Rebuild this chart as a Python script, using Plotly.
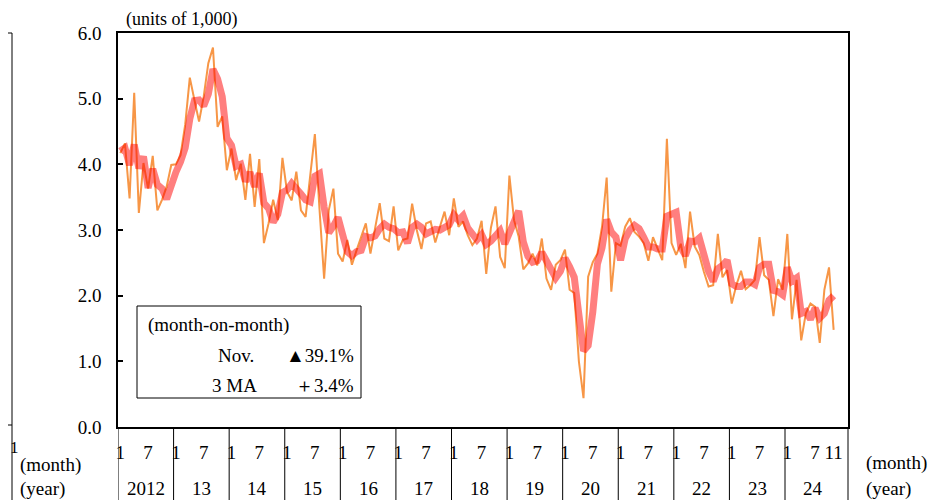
import plotly.graph_objects as go

# monthly values (units of 1,000), Jan 2012 - Nov 2024
monthly = [
  4.17, 4.32, 3.48, 5.09, 3.26, 4.02, 3.63, 4.13, 3.30, 3.46, 3.66, 3.99,
  4.00, 4.14, 4.60, 5.32, 4.98, 4.65, 5.03, 5.54, 5.78, 4.57, 4.73, 3.91,
  4.24, 3.76, 4.01, 3.46, 4.16, 3.35, 4.08, 2.80, 3.10, 3.46, 3.15, 4.10,
  3.58, 3.45, 3.89, 3.30, 3.20, 3.80, 4.46, 3.32, 2.26, 3.30, 3.63, 2.64,
  2.52, 2.85, 2.47, 2.69, 2.90, 3.10, 2.64, 3.00, 3.41, 2.87, 2.83, 3.36,
  2.69, 2.85, 2.87, 3.40, 3.00, 2.71, 3.10, 3.13, 2.81, 3.05, 3.28, 2.92,
  3.48, 3.05, 3.13, 2.92, 2.77, 2.87, 3.14, 2.33, 3.03, 3.36, 2.59, 2.42,
  3.83, 3.15, 2.90, 2.40, 2.49, 2.64, 2.46, 2.87, 2.26, 2.09, 2.47, 2.54,
  2.70, 2.09, 2.04, 1.00, 0.44, 2.29, 2.51, 2.64, 3.05, 3.80, 2.06, 2.80,
  2.76, 3.05, 3.18, 2.97, 2.90, 2.80, 2.53, 2.89, 2.70, 2.54, 4.39, 2.80,
  2.62, 2.79, 2.42, 3.28, 2.75, 2.62, 2.36, 2.14, 2.16, 2.94, 2.28, 2.39,
  1.88, 2.16, 2.38, 2.10, 2.16, 2.24, 2.89, 2.31, 2.24, 1.69, 2.25, 2.09,
  2.94, 1.64, 2.24, 1.32, 1.73, 1.88, 1.83, 1.28, 2.09, 2.43, 1.48,
]

# 3-month moving average, same months
ma3 = [
  4.20, 4.25, 3.99, 4.30, 3.94, 4.12, 3.64, 3.93, 3.69, 3.63, 3.47, 3.70,
  3.88, 4.04, 4.25, 4.69, 4.97, 4.98, 4.89, 5.07, 5.45, 5.30, 5.03, 4.40,
  4.29, 3.97, 4.00, 3.74, 3.88, 3.66, 3.86, 3.41, 3.33, 3.12, 3.24, 3.57,
  3.61, 3.71, 3.64, 3.55, 3.46, 3.43, 3.82, 3.86, 3.35, 2.96, 3.06, 3.19,
  2.93, 2.67, 2.61, 2.67, 2.69, 2.90, 2.88, 2.91, 3.02, 3.09, 3.04, 3.02,
  2.96, 2.97, 2.80, 3.04, 3.09, 3.04, 2.94, 2.98, 3.01, 3.00, 3.05, 3.08,
  3.23, 3.15, 3.22, 3.03, 2.94, 2.85, 2.93, 2.78, 2.83, 2.91, 2.99, 2.79,
  2.95, 3.13, 3.29, 2.82, 2.60, 2.51, 2.53, 2.66, 2.53, 2.41, 2.27, 2.37,
  2.57, 2.44, 2.28, 1.71, 1.16, 1.24, 1.75, 2.48, 2.73, 3.16, 2.97, 2.89,
  2.54, 2.87, 3.00, 3.07, 3.02, 2.89, 2.74, 2.74, 2.71, 2.71, 3.21, 3.24,
  3.27, 2.74, 2.61, 2.83, 2.82, 2.88, 2.58, 2.37, 2.22, 2.41, 2.46, 2.54,
  2.18, 2.14, 2.14, 2.21, 2.21, 2.17, 2.43, 2.48, 2.48, 2.08, 2.06, 2.01,
  2.43, 2.22, 2.27, 1.73, 1.76, 1.64, 1.81, 1.66, 1.73, 1.93, 2.00,
]

years = ["2012", "13", "14", "15", "16", "17", "18", "19", "20", "21", "22", "23", "24"]
tick_months = [1, 7]
last_month = 11

FONT = "Liberation Serif, DejaVu Serif, serif"
OFF = 8  # page body margin; page pixel = figure pixel + OFF
W, H = 941 - OFF, 500 - OFF
L, R, T, B = 118 - OFF, 848 - OFF, 33 - OFF, 427 - OFF


def px_x(x):
  """page pixel x -> paper fraction"""
  return (x - OFF - L) / (R - L)


def px_y(y):
  """page pixel y -> paper fraction"""
  return (B - (y - OFF)) / (B - T)


idx = list(range(len(monthly)))
tickvals = [12 * k + m - 1 for k in range(len(years)) for m in tick_months] + [12 * (len(years) - 1) + last_month - 1]
ticktext = [str(m) for _ in years for m in tick_months] + [str(last_month)]

fig = go.Figure()
fig.add_trace(go.Scatter(x=idx, y=monthly, mode="lines", line=dict(color="#F79646", width=2), hoverinfo="skip"))
fig.add_trace(go.Scatter(x=idx, y=ma3, mode="lines", line=dict(color="rgba(255,0,0,0.5)", width=7), hoverinfo="skip"))

shapes = []
# year separators below the axis
for k in range(len(years)):
  shapes.append(dict(type="line", xref="x", yref="paper", x0=12 * k - 0.5, x1=12 * k - 0.5,
                     y0=0, y1=px_y(500), line=dict(color="black", width=1)))
shapes.append(dict(type="line", xref="paper", yref="paper", x0=1, x1=1, y0=0, y1=px_y(500),
                   line=dict(color="black", width=1)))
# neighbouring chart fragment on the far left
shapes.append(dict(type="line", xref="paper", yref="paper", x0=px_x(12), x1=px_x(12), y0=px_y(33), y1=px_y(500),
                   line=dict(color="black", width=1)))
shapes.append(dict(type="line", xref="paper", yref="paper", x0=px_x(0), x1=px_x(12), y0=px_y(33), y1=px_y(33),
                   line=dict(color="black", width=1)))
shapes.append(dict(type="line", xref="paper", yref="paper", x0=px_x(0), x1=px_x(12), y0=px_y(425), y1=px_y(425),
                   line=dict(color="black", width=1)))
# month-on-month box
shapes.append(dict(type="rect", xref="paper", yref="paper", x0=px_x(137), x1=px_x(361), y0=px_y(398), y1=px_y(306),
                   line=dict(color="black", width=1), fillcolor="white", layer="above"))

annotations = []


def note(text, x, y, anchor="left", size=19):
  annotations.append(dict(text=text, xref="paper", yref="paper", x=px_x(x), y=px_y(y),
                          xanchor=anchor, yanchor="middle", showarrow=False,
                          font=dict(family=FONT, size=size, color="black")))


for k, yr in enumerate(years):
  annotations.append(dict(text=yr, xref="x", yref="paper", x=12 * k + 5.5, y=px_y(488),
                          xanchor="center", yanchor="middle", showarrow=False,
                          font=dict(family=FONT, size=19, color="black")))

note("(units of 1,000)", 124, 19, size=18)
note("(month)", 864, 463)
note("(year)", 864, 489)
note("(month)", 18, 465)
note("(year)", 18, 489)
note("1", 8, 447, size=17)
note("(month-on-month)", 146, 325)
note("Nov.", 256, 355, "right")
note("▲39.1%", 356, 355, "right")
note("3 MA", 259, 385, "right")
note("＋3.4%", 356, 385, "right")

fig.update_layout(
  width=W, height=H,
  margin=dict(l=L, r=W - R, t=T, b=H - B, autoexpand=False),
  paper_bgcolor="white", plot_bgcolor="white",
  showlegend=False,
  font=dict(family=FONT, size=19, color="black"),
  shapes=shapes, annotations=annotations,
)
fig.update_xaxes(range=[-0.5, 157.1], tickvals=tickvals, ticktext=ticktext, ticks="",
                 showgrid=False, zeroline=False, showline=True, linecolor="black", linewidth=1.5,
                 mirror=True, ticklabelstandoff=7, tickangle=0)
fig.update_yaxes(range=[0, 6], dtick=1, tickformat=".1f", ticks="inside", ticklen=5, tickcolor="black",
                 tickwidth=1.5, showgrid=False, zeroline=False, showline=True, linecolor="black",
                 linewidth=1.5, mirror=True, ticklabelstandoff=11)

fig.write_html("out.html")
